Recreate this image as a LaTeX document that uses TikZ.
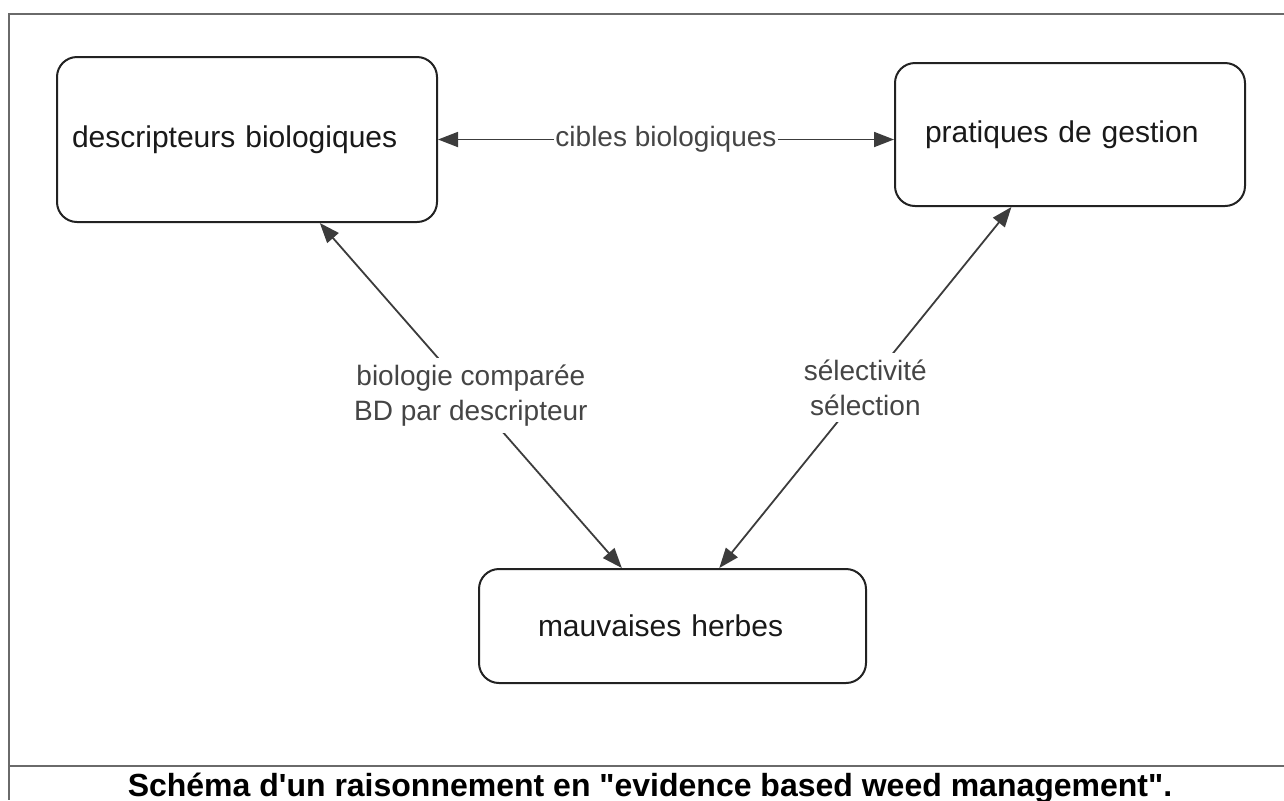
\documentclass[tikz,border=0pt]{standalone}
\usepackage{fontspec}
\setmainfont{Liberation Sans}[Ligatures=TeXOff]
\usetikzlibrary{positioning,arrows.meta}
\definecolor{frameline}{HTML}{6A6A6A}
\definecolor{boxline}{HTML}{222222}
\definecolor{arrowline}{HTML}{3C3C3C}
\definecolor{labeltext}{HTML}{454545}

\begin{document}
\begin{tikzpicture}[
  x=0.5pt,y=-0.5pt,
  font=\fontsize{15}{18}\selectfont,
  box/.style={rounded corners=10pt,draw=boxline,line width=1pt,fill=white,align=left,inner ysep=0pt,text=black!90},
  lbl/.style={fill=white,text=labeltext,inner sep=3.5pt,align=center,font=\fontsize{14}{17.5}\selectfont},
  >={Triangle[length=10pt,width=7.5pt]},link/.style={<->,draw=arrowline,line width=0.9pt},
  frame/.style={draw=frameline,line width=1pt}
]
\useasboundingbox (0,0) rectangle (1284,800);
% page frame
\draw[frame] (1284,14) -| (9,800);
\draw[frame] (9,766) -- (1284,766);

\node[box,text width=175pt,inner xsep=7.5pt,minimum height=82.5pt] (desc) at (247,139.5) {descripteurs biologiques};
\node[box,text width=145pt,inner xsep=15pt,minimum height=71.5pt] (prat) at (1070,134.5) {pratiques de gestion};
\node[box,text width=134.5pt,inner xsep=29.5pt,minimum height=57pt] (mauv) at (672.5,626) {mauvaises herbes};

\draw[link] (desc.east) -- (desc.east -| prat.west) node[lbl,inner sep=0.5pt,midway] (cibles) {cibles biologiques};
\draw[link] (desc) -- (mauv) node[lbl,midway] (biocomp) {biologie comparée\\BD par descripteur};
\draw[link] (prat) -- (mauv) node[lbl,midway] (selec) {sélectivité\\sélection};

\node[font=\bfseries\fontsize{16}{18}\selectfont,anchor=base] (caption) at (650,796) {Schéma d'un raisonnement en "evidence based weed management".};
\end{tikzpicture}
\end{document}
